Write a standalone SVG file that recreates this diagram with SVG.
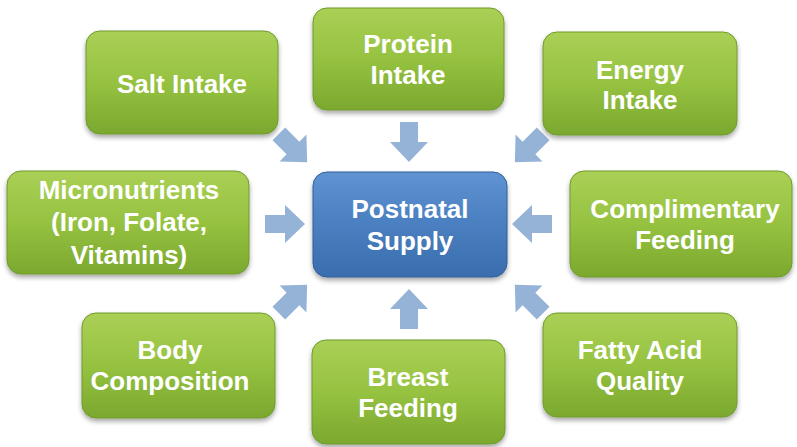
<svg xmlns="http://www.w3.org/2000/svg" width="797" height="447" viewBox="0 0 797 447">
<defs>
<linearGradient id="g" x1="0" y1="0" x2="0" y2="1">
<stop offset="0" stop-color="#AAD055"/>
<stop offset="0.5" stop-color="#96C241"/>
<stop offset="1" stop-color="#7BA82E"/>
</linearGradient>
<linearGradient id="b" x1="0" y1="0" x2="0" y2="1">
<stop offset="0" stop-color="#5F93D2"/>
<stop offset="0.5" stop-color="#4A7FC0"/>
<stop offset="1" stop-color="#3A6DAE"/>
</linearGradient>
<filter id="sh" x="-10%" y="-10%" width="120%" height="130%">
<feGaussianBlur in="SourceAlpha" stdDeviation="2.5"/>
<feOffset dx="0" dy="3" result="o"/>
<feComponentTransfer><feFuncA type="linear" slope="0.35"/></feComponentTransfer>
<feMerge><feMergeNode/><feMergeNode in="SourceGraphic"/></feMerge>
</filter>
<path id="arr" d="M-20,-9 H0 V-19 L20,0 L0,19 V9 H-20 Z"/>
</defs>
<style>
.gn{fill:url(#g);stroke:#6E9A2C;stroke-width:1;filter:url(#sh)}
.bl{fill:url(#b);stroke:#2F5E9A;stroke-width:1;filter:url(#sh)}
text{font-family:"Liberation Sans",Arial,sans-serif;font-weight:bold;font-size:26px;fill:#FFFFFF;text-anchor:middle}
.a{fill:#95B3D7}
</style>
<g id="connectors">
<use href="#arr" class="a" transform="translate(409,142) rotate(90)"/>
<use href="#arr" class="a" transform="translate(285,224)"/>
<use href="#arr" class="a" transform="translate(532,224) rotate(180)"/>
<use href="#arr" class="a" transform="translate(409,309) rotate(-90)"/>
<use href="#arr" class="a" transform="translate(293,148) rotate(45)"/>
<use href="#arr" class="a" transform="translate(529,148) rotate(135)"/>
<use href="#arr" class="a" transform="translate(293,299) rotate(-45)"/>
<use href="#arr" class="a" transform="translate(529,299) rotate(-135)"/>
</g>
<g id="salt"><rect class="gn" x="86" y="31" width="192" height="103" rx="14"/><text x="182" y="93">Salt Intake</text></g>
<g id="protein"><rect class="gn" x="313" y="8" width="191" height="102" rx="14"/><text x="408" y="53">Protein</text><text x="408" y="84">Intake</text></g>
<g id="energy"><rect class="gn" x="543" y="32" width="194" height="103" rx="14"/><text x="640" y="79">Energy</text><text x="640" y="109">Intake</text></g>
<g id="micro"><rect class="gn" x="7" y="171" width="242" height="103" rx="14"/><text x="129" y="199">Micronutrients</text><text x="129" y="231">(Iron, Folate,</text><text x="129" y="264">Vitamins)</text></g>
<g id="postnatal"><rect class="bl" x="313" y="172" width="194" height="105" rx="14"/><text x="410" y="218">Postnatal</text><text x="410" y="250">Supply</text></g>
<g id="compl"><rect class="gn" x="570" y="171" width="222" height="106" rx="14"/><text x="685" y="218">Complimentary</text><text x="685" y="249">Feeding</text></g>
<g id="body"><rect class="gn" x="82" y="313" width="193" height="105" rx="14"/><text x="170" y="359">Body</text><text x="170" y="390">Composition</text></g>
<g id="breast"><rect class="gn" x="312" y="340" width="193" height="104" rx="14"/><text x="408" y="386">Breast</text><text x="408" y="417">Feeding</text></g>
<g id="fatty"><rect class="gn" x="543" y="313" width="194" height="104" rx="14"/><text x="640" y="359">Fatty Acid</text><text x="640" y="390">Quality</text></g>
</svg>
